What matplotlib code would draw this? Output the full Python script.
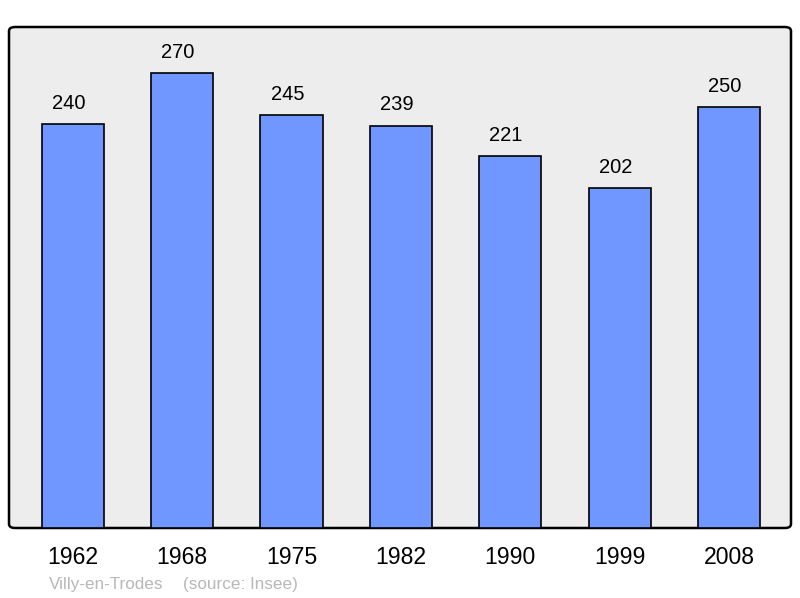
import matplotlib.pyplot as plt
from matplotlib.patches import FancyBboxPatch

plt.rcParams['font.family'] = ['Liberation Sans', 'DejaVu Sans']

annees = ['1962', '1968', '1975', '1982', '1990', '1999', '2008']
population = [240, 270, 245, 239, 221, 202, 250]

fig = plt.figure(figsize=(8, 5.98), dpi=100)
ax = fig.add_axes([9/800, 1-528/598, 782/800, 501/598])
ax.set_facecolor('none')

# fond gris arrondi
fond = FancyBboxPatch((0, 0), 1, 1, boxstyle='round,pad=0,rounding_size=0.008',
                      transform=ax.transAxes, facecolor='#ededed', edgecolor='black',
                      linewidth=1.8, zorder=0, clip_on=False)
ax.add_patch(fond)

x = list(range(len(annees)))
ax.bar(x, population, width=0.57, color='#7097ff', edgecolor='black', linewidth=1.2, zorder=2)
for xi, v in zip(x, population):
    ax.annotate(str(v), (xi, v), xytext=(-3, 8), textcoords='offset points',
                ha='center', va='bottom', fontsize=14.5)

ax.set_xlim(-0.585, 6.567)
ax.set_ylim(0, 297.5)
ax.set_xticks(x)
ax.set_xticklabels(annees, fontsize=16.6)
ax.tick_params(axis='x', length=0, pad=13)
ax.set_yticks([])
for s in ax.spines.values():
    s.set_visible(False)

fig.text(49/800, 1-584/598, 'Villy-en-Trodes', color='#b8b8b8', fontsize=12.3, va='center')
fig.text(183/800, 1-584/598, '(source: Insee)', color='#b8b8b8', fontsize=12.3, va='center')

fig.savefig('out.png', dpi=100)
